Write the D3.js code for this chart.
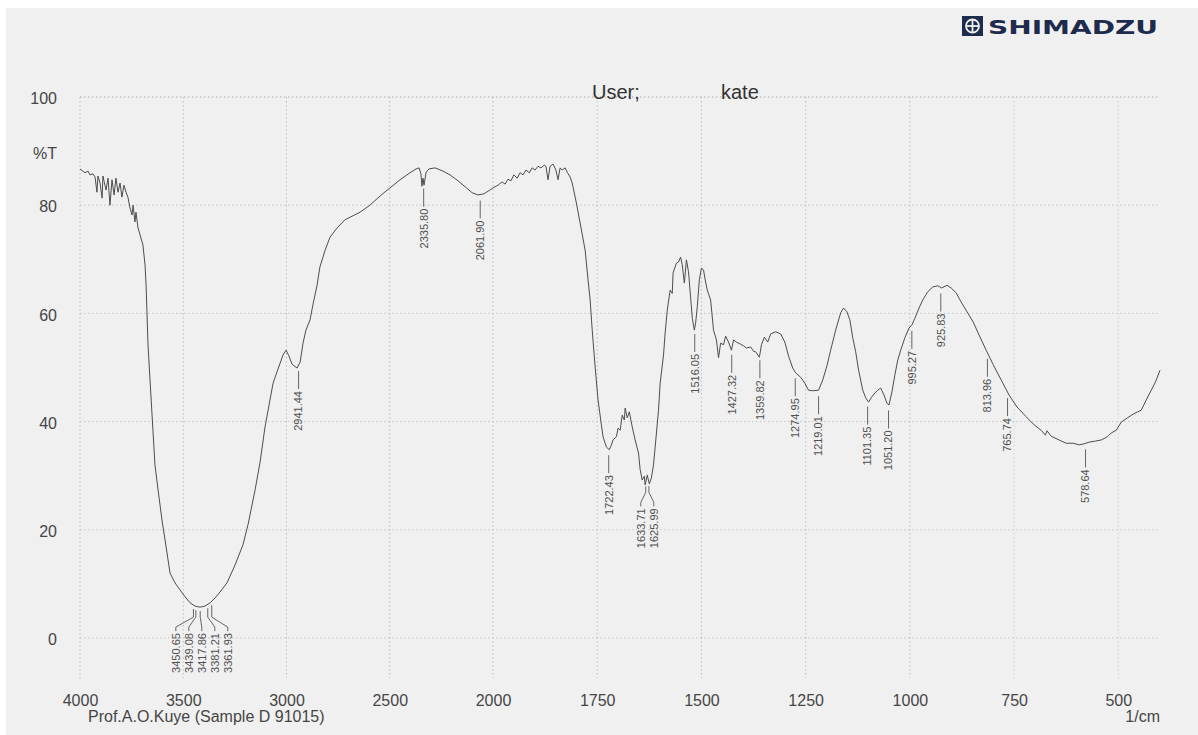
<!DOCTYPE html>
<html>
<head>
<meta charset="utf-8">
<script src="https://cdn.jsdelivr.net/npm/d3@7"></script>
<style>
  html, body { margin: 0; padding: 0; background: #ffffff; }
  svg { display: block; }
</style>
</head>
<body>
<svg id="chart" width="1198" height="735"></svg>
<script>
// FTIR spectrum: wavenumber (1/cm) against transmittance (%T)
const wavenumber = [
  4000, 3976, 3961, 3952, 3937, 3927, 3918, 3913, 3903, 3893, 3889, 3874, 3864, 3855, 3845, 3835,
  3826, 3816, 3806, 3797, 3787, 3777, 3768, 3758, 3748, 3743, 3734, 3729, 3719, 3709, 3695, 3685,
  3680, 3676, 3671, 3661, 3646, 3637, 3622, 3603, 3588, 3564, 3540, 3516, 3491, 3467, 3443, 3419,
  3395, 3370, 3346, 3322, 3288, 3249, 3211, 3186, 3152, 3128, 3104, 3080, 3065, 3046, 3031, 3017,
  3002, 2988, 2973, 2949, 2934, 2920, 2906, 2886, 2872, 2852, 2838, 2813, 2789, 2755, 2717, 2644,
  2596, 2547, 2499, 2450, 2402, 2373, 2358, 2349, 2344, 2339, 2334, 2324, 2310, 2281, 2242, 2208,
  2169, 2135, 2101, 2073, 2044, 2015, 2000, 1988, 1978, 1971, 1964, 1957, 1950, 1942, 1935, 1928,
  1921, 1913, 1906, 1899, 1892, 1885, 1877, 1873, 1868, 1863, 1856, 1849, 1844, 1839, 1834, 1827,
  1822, 1815, 1810, 1800, 1791, 1779, 1772, 1767, 1762, 1755, 1748, 1740, 1736, 1728, 1721, 1716,
  1712, 1704, 1700, 1695, 1690, 1685, 1683, 1678, 1673, 1666, 1659, 1651, 1647, 1642, 1637, 1635,
  1630, 1625, 1620, 1615, 1611, 1603, 1599, 1591, 1587, 1582, 1575, 1570, 1568, 1560, 1555, 1550,
  1546, 1541, 1536, 1531, 1526, 1522, 1517, 1514, 1510, 1505, 1500, 1495, 1490, 1486, 1478, 1471,
  1464, 1459, 1454, 1447, 1442, 1435, 1428, 1423, 1416, 1406, 1399, 1392, 1382, 1375, 1370, 1361,
  1356, 1349, 1341, 1334, 1322, 1310, 1300, 1291, 1281, 1274, 1262, 1252, 1243, 1233, 1219, 1209,
  1199, 1190, 1178, 1166, 1159, 1151, 1144, 1137, 1130, 1123, 1113, 1106, 1099, 1092, 1084, 1077,
  1070, 1062, 1055, 1050, 1043, 1036, 1029, 1022, 1012, 1002, 995, 988, 978, 969, 957, 945,
  933, 924, 911, 901, 889, 877, 863, 848, 834, 817, 800, 781, 762, 743, 721, 702,
  685, 675, 671, 661, 642, 625, 608, 594, 582, 570, 555, 541, 526, 517, 505, 493,
  478, 464, 454, 445, 433, 421, 411, 400
];
const transmittance = [
  86.7, 86.0, 86.3, 85.6, 85.8, 85.2, 82.4, 85.4, 84.1, 81.3, 85.4, 82.8, 85.0, 80.0, 84.7, 81.9,
  85.0, 82.4, 84.1, 81.5, 83.7, 82.4, 81.5, 79.5, 78.2, 80.0, 76.9, 78.7, 75.8, 74.5, 72.6, 68.9,
  65.2, 60.6, 54.5, 47.7, 37.9, 32.0, 27.4, 21.8, 18.1, 12.0, 10.2, 8.9, 7.6, 6.5, 5.9, 5.7,
  5.9, 6.5, 7.4, 8.5, 10.2, 13.5, 17.2, 21.0, 27.4, 32.5, 39.0, 44.0, 47.1, 49.2, 50.8, 52.3,
  53.2, 52.1, 50.6, 49.9, 51.0, 54.5, 56.9, 58.8, 61.6, 65.2, 68.6, 71.7, 74.1, 75.8, 77.3, 78.7,
  80.0, 81.7, 83.2, 84.7, 86.0, 86.7, 86.9, 85.8, 83.5, 85.0, 83.7, 86.1, 86.7, 86.9, 86.3, 85.6,
  84.5, 83.4, 82.3, 81.9, 82.1, 82.8, 83.2, 83.7, 84.3, 83.9, 84.8, 84.5, 85.6, 85.0, 86.0, 85.6,
  86.5, 86.0, 86.9, 86.5, 87.2, 86.9, 87.4, 87.2, 84.7, 87.2, 87.6, 86.5, 84.7, 86.9, 86.5, 86.9,
  86.1, 85.2, 84.1, 80.4, 76.7, 71.7, 66.2, 62.5, 56.9, 50.1, 44.0, 39.4, 37.2, 35.3, 34.8, 35.7,
  36.6, 37.2, 38.8, 38.4, 41.2, 40.3, 42.5, 40.7, 41.8, 39.0, 36.6, 34.2, 31.1, 29.2, 29.9, 28.3,
  30.1, 28.5, 29.6, 32.0, 35.3, 42.1, 47.1, 52.3, 56.4, 60.6, 64.3, 63.7, 67.5, 69.3, 69.5, 70.4,
  69.0, 65.6, 69.9, 67.7, 63.0, 59.1, 56.9, 58.2, 61.2, 66.2, 68.4, 68.0, 65.8, 64.3, 62.5, 56.9,
  55.1, 51.8, 54.5, 54.2, 55.8, 54.7, 53.2, 55.1, 54.7, 54.3, 54.0, 53.6, 53.8, 53.0, 52.9, 51.9,
  54.2, 55.6, 54.7, 56.2, 56.6, 56.2, 54.7, 52.1, 49.9, 49.0, 48.2, 47.1, 45.8, 45.7, 45.8, 47.7,
  50.3, 53.2, 56.9, 60.1, 61.0, 60.3, 58.8, 55.5, 52.9, 49.5, 45.8, 44.4, 43.6, 44.5, 45.3, 45.8,
  46.2, 44.9, 43.4, 43.1, 45.5, 48.6, 51.4, 53.2, 55.5, 57.3, 57.9, 59.1, 61.0, 62.5, 64.0, 64.9,
  65.1, 64.7, 65.2, 64.7, 63.8, 62.1, 60.3, 58.4, 56.0, 53.2, 50.5, 47.7, 44.9, 42.7, 40.9, 39.4,
  38.4, 37.5, 38.3, 37.3, 36.6, 36.0, 36.0, 35.7, 35.9, 36.2, 36.4, 36.6, 37.2, 37.9, 38.4, 39.9,
  40.7, 41.4, 41.8, 42.1, 44.0, 45.8, 47.3, 49.5
];

// Peak positions picked by the instrument (1/cm)
const peakWavenumbers = [
  3450.65, 3439.08, 3417.86, 3381.21, 3361.93, 2941.44, 2335.80, 2061.90,
  1722.43, 1633.71, 1625.99, 1516.05, 1427.32, 1359.82, 1274.95, 1219.01,
  1101.35, 1051.20, 995.27, 925.83, 813.96, 765.74, 578.64
];

const xTickValues = [4000, 3500, 3000, 2500, 2000, 1750, 1500, 1250, 1000, 750, 500];
const yTickValues = [0, 20, 40, 60, 80, 100];
const yAxisTitle = "%T";
const xAxisUnit = "1/cm";
const sampleCaption = "Prof.A.O.Kuye (Sample D 91015)";
const userCaption = "User;";
const userName = "kate";
const brandName = "SHIMADZU";

const W = 1198, H = 735;
const FONT = "'Liberation Sans', Arial, Helvetica, sans-serif";
const svg = d3.select("#chart");

// paper
svg.append("rect").attr("x", 0).attr("y", 0).attr("width", W).attr("height", H).attr("fill", "#ffffff");
svg.append("rect").attr("x", 6).attr("y", 8).attr("width", W - 6).attr("height", H - 8).attr("fill", "#f0f0f0");

// Instrument scale: 4000-2000 compressed, 2000-400 expanded
const x = d3.scaleLinear().domain([4000, 2000, 400]).range([80, 493, 1160]);
const y = d3.scaleLinear().domain([0, 100]).range([638, 97]);

// dotted grid
const grid = svg.append("g");
grid.selectAll("line.v").data(xTickValues.concat([4000])).join("line")
  .attr("x1", d => x(d)).attr("x2", d => x(d))
  .attr("y1", y(100)).attr("y2", 678)
  .attr("stroke", d => (d === 4000 || d <= 750) ? "#d0d0d0" : "#bdbdbd").attr("stroke-width", 1)
  .attr("stroke-dasharray", "1.5,2.5");
grid.selectAll("line.h").data(yTickValues).join("line")
  .attr("x1", x(4000)).attr("x2", x(400))
  .attr("y1", d => y(d)).attr("y2", d => y(d))
  .attr("stroke", d => d === 100 ? "#a8a8a8" : "#c6c6c6").attr("stroke-width", 1)
  .attr("stroke-dasharray", "1.5,2.5");

// axes (labels only)
const xAxis = svg.append("g").attr("transform", "translate(0,680)")
  .call(d3.axisBottom(x).tickValues(xTickValues).tickSize(0).tickPadding(15).tickFormat(d3.format("d")));
const yAxis = svg.append("g").attr("transform", `translate(${x(4000)},0)`)
  .call(d3.axisLeft(y).tickValues(yTickValues).tickSize(0).tickPadding(23).tickFormat(d3.format("d")));
[xAxis, yAxis].forEach(a => {
  a.select(".domain").remove();
  a.selectAll("text").attr("font-family", FONT).attr("font-size", 16).attr("fill", "#454545");
});
yAxis.selectAll("text").attr("dy", "0.42em");

svg.append("text").attr("x", 57).attr("y", 159).attr("text-anchor", "end")
  .attr("font-family", FONT).attr("font-size", 16).attr("fill", "#454545").text(yAxisTitle);
svg.append("text").attr("x", 1160).attr("y", 722).attr("text-anchor", "end")
  .attr("font-family", FONT).attr("font-size", 16).attr("fill", "#454545").text(xAxisUnit);
svg.append("text").attr("x", 88).attr("y", 722)
  .attr("font-family", FONT).attr("font-size", 16).attr("fill", "#454545").text(sampleCaption);

svg.append("text").attr("x", 592).attr("y", 99)
  .attr("font-family", FONT).attr("font-size", 20).attr("fill", "#333").text(userCaption);
svg.append("text").attr("x", 721).attr("y", 99)
  .attr("font-family", FONT).attr("font-size", 20).attr("fill", "#333").text(userName);

// brand mark
const brand = svg.append("g");
brand.append("rect").attr("x", 962).attr("y", 16).attr("width", 21).attr("height", 20).attr("fill", "#1d2b4d");
brand.append("circle").attr("cx", 972.5).attr("cy", 26).attr("r", 6.5)
  .attr("fill", "none").attr("stroke", "#f0f0f0").attr("stroke-width", 1.8);
brand.append("line").attr("x1", 972.5).attr("x2", 972.5).attr("y1", 19.5).attr("y2", 32.5)
  .attr("stroke", "#f0f0f0").attr("stroke-width", 1.8);
brand.append("line").attr("x1", 966).attr("x2", 979).attr("y1", 26).attr("y2", 26)
  .attr("stroke", "#f0f0f0").attr("stroke-width", 1.8);
brand.append("text").attr("x", 988).attr("y", 34)
  .attr("font-family", "'DejaVu Sans', " + FONT).attr("font-weight", "bold").attr("font-size", 20)
  .attr("textLength", 170).attr("lengthAdjust", "spacingAndGlyphs")
  .attr("fill", "#1d2b4d").text(brandName);

// spectrum
const spectrum = wavenumber.map((w, i) => ({ w, t: transmittance[i] }));
const line = d3.line().x(d => x(d.w)).y(d => y(d.t));
svg.append("path").datum(spectrum).attr("d", line)
  .attr("fill", "none").attr("stroke", "#4d4d4d").attr("stroke-width", 1).attr("stroke-linejoin", "round");

// transmittance at any wavenumber
function tAt(w) {
  for (let i = 0; i < spectrum.length - 1; i++) {
    const a = spectrum[i], b = spectrum[i + 1];
    if (w <= a.w && w >= b.w) {
      const f = (a.w - w) / (a.w - b.w);
      return a.t + f * (b.t - a.t);
    }
  }
  return spectrum[spectrum.length - 1].t;
}

// peak labels, grouped where they would overlap
const peaks = peakWavenumbers.map(w => ({ w, px: x(w), py: y(tAt(w)) })).sort((a, b) => a.px - b.px);
const clusters = [];
peaks.forEach(p => {
  const last = clusters[clusters.length - 1];
  if (last && p.px - last[last.length - 1].px < 10) last.push(p); else clusters.push([p]);
});

const labels = svg.append("g");
clusters.forEach(c => {
  if (c.length === 1) {
    const p = c[0];
    labels.append("line").attr("x1", p.px).attr("x2", p.px)
      .attr("y1", p.py + 6).attr("y2", p.py + 24)
      .attr("stroke", "#555").attr("stroke-width", 0.9);
    labels.append("text")
      .attr("transform", `translate(${p.px},${p.py + 26}) rotate(-90)`)
      .attr("text-anchor", "end").attr("dy", "0.35em")
      .attr("font-family", FONT).attr("font-size", 11).attr("fill", "#505050")
      .text(p.w.toFixed(2));
  } else {
    const cx = d3.mean(c, d => d.px);
    const base = d3.max(c, d => d.py);
    const spacing = 13;
    c.forEach((p, k) => {
      const lx = cx + (k - (c.length - 1) / 2) * spacing;
      labels.append("polyline")
        .attr("points", [[p.px, p.py + 4], [p.px, base + 10], [lx, base + 20], [lx, base + 24]].map(q => q.join(",")).join(" "))
        .attr("fill", "none").attr("stroke", "#555").attr("stroke-width", 0.9);
      labels.append("text")
        .attr("transform", `translate(${lx},${base + 26}) rotate(-90)`)
        .attr("text-anchor", "end").attr("dy", "0.35em")
        .attr("font-family", FONT).attr("font-size", 11).attr("fill", "#505050")
        .text(p.w.toFixed(2));
    });
  }
});
</script>
</body>
</html>
